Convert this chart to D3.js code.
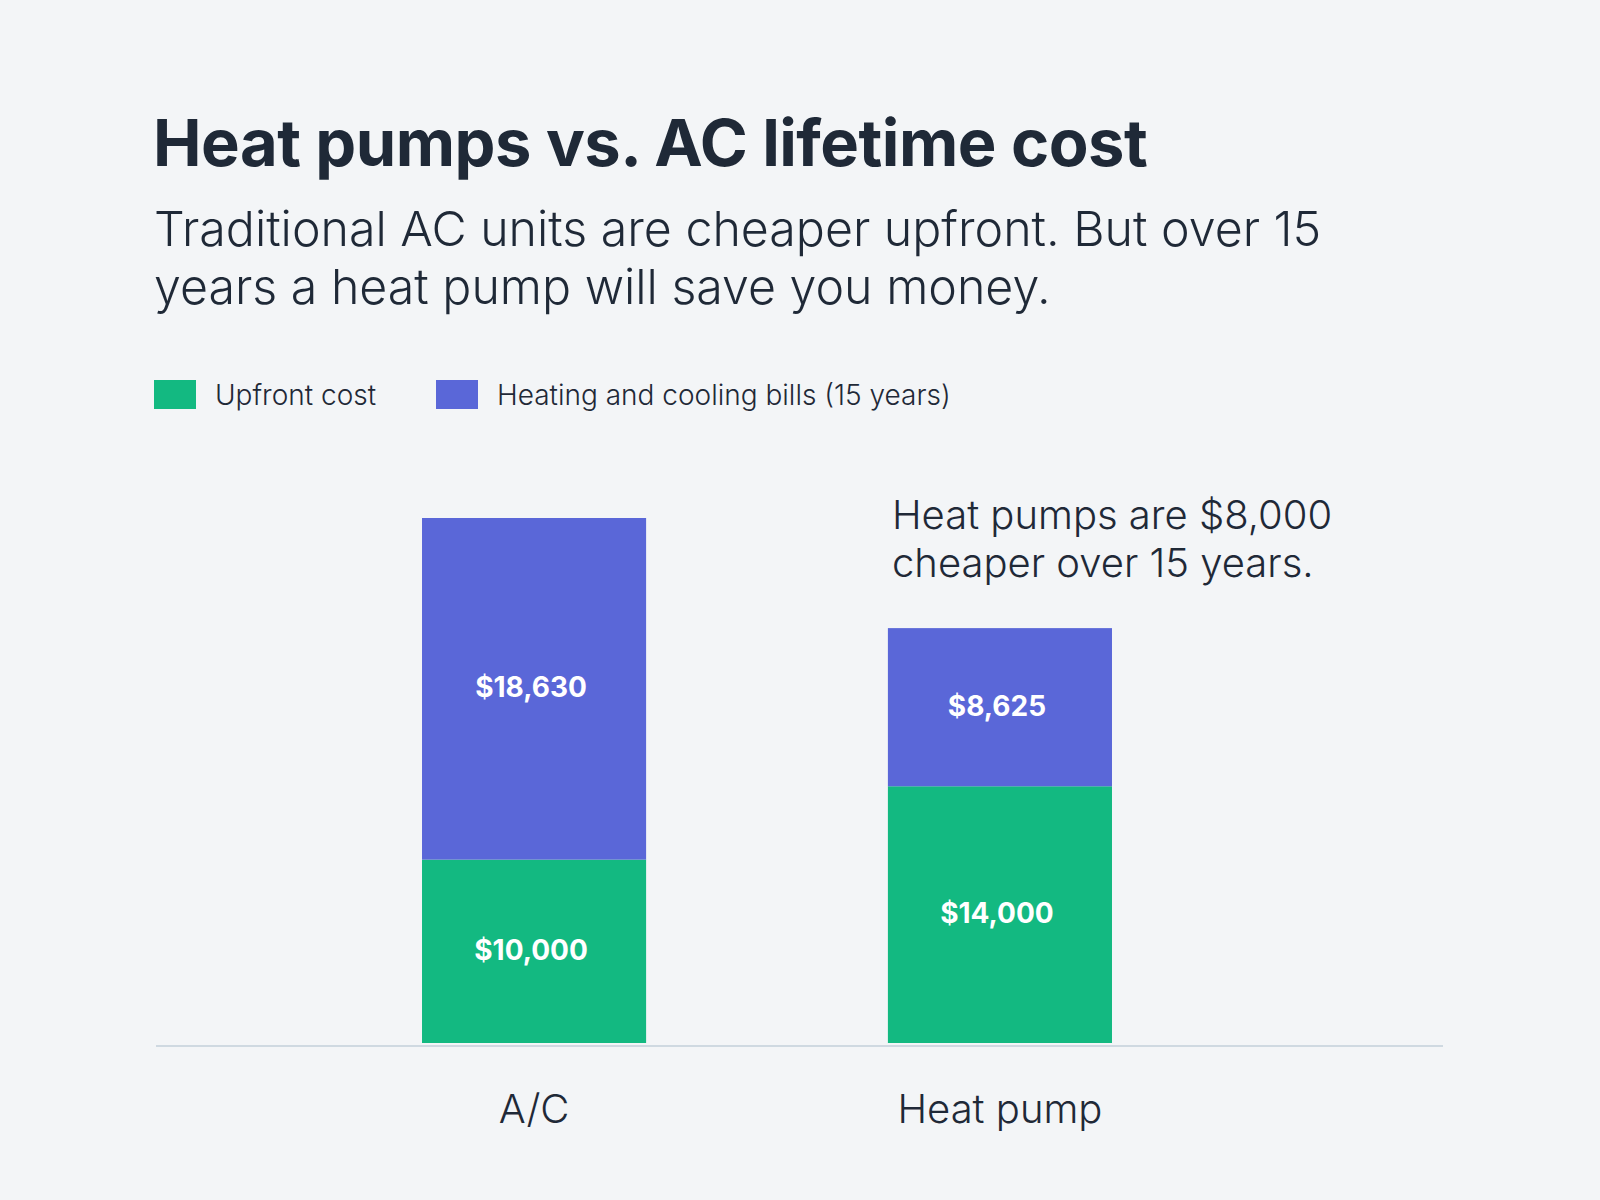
<!DOCTYPE html>
<html>
<head>
<meta charset="utf-8">
<script src="https://cdn.jsdelivr.net/npm/d3@7"></script>
<style>
  html, body { margin: 0; padding: 0; background: #f3f5f7; }
  svg { display: block; font-family: Inter, "Noto Sans", sans-serif; }
</style>
</head>
<body>
<svg id="chart" width="1600" height="1200"></svg>
<script>
const categories = ["A/C", "Heat pump"];
const upfrontCost = [10000, 14000];
const bills15Years = [18630, 8625];
const seriesNames = ["Upfront cost", "Heating and cooling bills (15 years)"];
const seriesKeys = ["upfront", "bills"];
const titleText = "Heat pumps vs. AC lifetime cost";
const subtitleLines = ["Traditional AC units are cheaper upfront. But over 15", "years a heat pump will save you money."];
const annotationLines = ["Heat pumps are $8,000", "cheaper over 15 years."];

const colors = { upfront: "#13b981", bills: "#5a67d8" };
const textColor = "#1f2937";

const rows = categories.map((c, i) => ({ category: c, upfront: upfrontCost[i], bills: bills15Years[i] }));
const stacked = d3.stack().keys(seriesKeys)(rows);

const svg = d3.select("#chart");
svg.append("rect").attr("width", 1600).attr("height", 1200).attr("fill", "#f3f5f7");

// Title & subtitle
svg.append("text").attr("x", 153).attr("y", 166)
  .attr("font-size", 65).attr("font-weight", 700).attr("fill", textColor)
  .attr("letter-spacing", -0.5)
  .text(titleText);
svg.append("g").selectAll("text").data(subtitleLines).join("text")
  .attr("x", 154).attr("y", (d, i) => 246 + i * 58)
  .attr("font-size", 48.3).attr("font-weight", 300).attr("fill", textColor)
  .text(d => d);

// Legend
const legendX = [154, 436];
const lg = svg.append("g").selectAll("g").data(seriesKeys).join("g")
  .attr("transform", (d, i) => `translate(${legendX[i]},380)`);
lg.append("rect").attr("width", 42).attr("height", 29).attr("fill", d => colors[d]);
lg.append("text").attr("x", 61).attr("y", 25)
  .attr("font-size", 28).attr("font-weight", 300).attr("fill", textColor)
  .text((d, i) => seriesNames[i]);

// Scales
const x = d3.scaleBand().domain(categories).range([156, 1378]).paddingInner(0.519).paddingOuter(0.571);
const totals = rows.map(r => r.upfront + r.bills);
const y = d3.scaleLinear().domain([0, d3.max(totals)]).range([1043, 518]);

// Bars
const layer = svg.append("g").selectAll("g").data(stacked).join("g")
  .attr("fill", d => colors[d.key]);
layer.selectAll("rect").data(d => d).join("rect")
  .attr("x", d => x(d.data.category))
  .attr("width", x.bandwidth())
  .attr("y", d => y(d[1]))
  .attr("height", d => y(d[0]) - y(d[1]));

// Value labels
const fmt = d3.format("$,");
const labelG = svg.append("g");
stacked.forEach(s => {
  labelG.selectAll(null).data(s).join("text")
    .attr("x", d => x(d.data.category) + x.bandwidth() / 2 - 3)
    .attr("y", d => (y(d[0]) + y(d[1])) / 2)
    .attr("dy", "0.3em")
    .attr("text-anchor", "middle")
    .attr("font-size", 28).attr("font-weight", 700).attr("fill", "#ffffff")
    .text(d => fmt(d[1] - d[0]));
});

// X axis
const xAxis = d3.axisBottom(x).tickSize(0).tickPadding(0);
const ax = svg.append("g").attr("transform", "translate(0,1046)").call(xAxis);
ax.select(".domain").remove();
ax.selectAll("text").attr("y", 77).attr("dy", 0)
  .attr("font-size", 40).attr("font-weight", 300).attr("fill", textColor)
  .attr("font-family", "Inter, 'Noto Sans', sans-serif");
svg.append("line").attr("x1", 156).attr("x2", 1443).attr("y1", 1046).attr("y2", 1046)
  .attr("stroke", "#cfd9e1").attr("stroke-width", 2);

// Annotation
svg.append("g").selectAll("text").data(annotationLines).join("text")
  .attr("x", 892).attr("y", (d, i) => 529 + i * 48)
  .attr("font-size", 40).attr("font-weight", 300).attr("fill", textColor)
  .text(d => d);
</script>
</body>
</html>
